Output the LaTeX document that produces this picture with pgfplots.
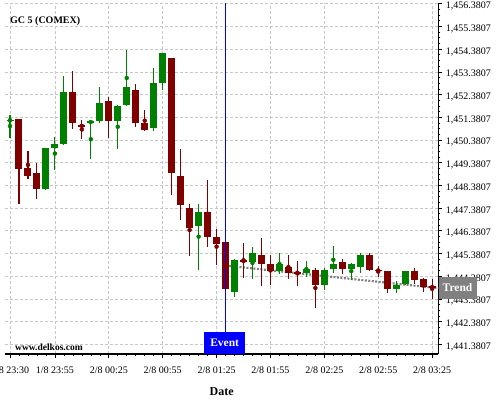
\documentclass[border=0pt]{standalone}
\usepackage{fontspec}
\setmainfont{Liberation Serif}
\usepackage{pgfplots}
\usepackage{pgfplotstable}
\pgfplotsset{compat=1.18}
\definecolor{cgreen}{RGB}{0,128,0}
\definecolor{cred}{RGB}{128,0,0}
\definecolor{evblue}{RGB}{0,0,255}
\definecolor{trgray}{RGB}{128,128,128}

\pgfplotstableread{
i o h l c
0 1451.23 1451.51 1450.49 1451.29
4 1448.22 1450.02 1448.18 1450.01
5 1450.03 1450.50 1449.08 1450.19
6 1450.20 1453.19 1450.15 1452.48
9 1451.13 1451.28 1449.56 1451.22
10 1451.22 1452.70 1451.12 1452.00
12 1451.22 1451.92 1450.00 1451.91
13 1451.92 1454.36 1451.88 1452.70
16 1450.91 1453.57 1450.78 1452.88
17 1452.89 1454.21 1452.60 1454.20
21 1446.59 1447.58 1444.67 1447.20
25 1443.68 1445.14 1443.48 1445.08
27 1445.01 1445.68 1444.27 1445.39
30 1444.61 1445.39 1444.46 1444.90
33 1444.52 1445.05 1444.35 1444.68
35 1443.99 1444.76 1443.76 1444.68
36 1444.70 1445.70 1444.51 1444.90
38 1444.70 1444.99 1444.23 1444.90
39 1444.79 1445.40 1444.50 1445.30
43 1443.82 1444.19 1443.66 1443.98
44 1444.07 1444.60 1443.98 1444.60
}\greentab

\pgfplotstableread{
i o h l c
1 1451.29 1451.30 1447.59 1449.10
2 1449.18 1449.88 1448.68 1448.79
3 1448.91 1449.38 1447.78 1448.22
7 1452.48 1453.41 1450.88 1451.13
8 1451.04 1451.28 1450.40 1450.98
11 1452.09 1452.27 1450.50 1451.22
14 1452.61 1452.88 1450.95 1451.13
15 1451.12 1451.69 1450.78 1450.82
18 1453.98 1453.99 1447.98 1448.93
19 1448.78 1450.00 1446.87 1447.52
20 1447.37 1447.58 1445.27 1446.50
22 1447.20 1448.61 1445.67 1446.11
23 1446.09 1446.48 1444.89 1445.80
24 1445.87 1445.88 1443.81 1443.82
26 1445.08 1445.86 1444.32 1445.01
28 1445.30 1446.08 1443.97 1444.92
29 1444.90 1445.29 1443.97 1444.61
31 1444.77 1445.30 1444.27 1444.52
32 1444.57 1445.05 1443.97 1444.51
34 1444.68 1444.74 1443.00 1443.99
37 1444.99 1445.16 1444.50 1444.70
40 1445.30 1445.40 1444.64 1444.68
41 1444.68 1444.82 1444.35 1444.60
42 1444.60 1444.61 1443.66 1443.82
45 1444.60 1444.76 1444.05 1444.21
46 1444.27 1444.28 1443.66 1443.90
47 1443.93 1444.27 1443.39 1443.88
}\redtab

\begin{document}
\begin{tikzpicture}
\useasboundingbox (-5bp,-46bp) rectangle (495bp,354bp);
\begin{axis}[
  at={(0,0)}, anchor=south west,
  scale only axis, width=433.3bp, height=350.5bp,
  xmin=-0.557, xmax=47.69,
  ymin=1440.95, ymax=1456.39,
  axis x line*=bottom, axis y line*=right,
  axis line style={line width=1.1bp, black},
  tick align=outside,
  major tick length=3.5bp, minor tick length=2bp,
  every tick/.style={black, line width=0.6bp},
  xtick={0,5,11,17,23,29,35,41,47},
  xticklabels={1/8 23:30, 1/8 23:55, 2/8 00:25, 2/8 00:55, 2/8 01:25, 2/8 01:55, 2/8 02:25, 2/8 02:55, 2/8 03:25},
  minor xtick={0,...,47},
  ytick={1441.3807,1442.3807,1443.3807,1444.3807,1445.3807,1446.3807,1447.3807,1448.3807,1449.3807,1450.3807,1451.3807,1452.3807,1453.3807,1454.3807,1455.3807,1456.3807},
  yticklabels={{1,441.3807},{1,442.3807},{1,443.3807},{1,444.3807},{1,445.3807},{1,446.3807},{1,447.3807},{1,448.3807},{1,449.3807},{1,450.3807},{1,451.3807},{1,452.3807},{1,453.3807},{1,454.3807},{1,455.3807},{1,456.3807}},
  minor y tick num=3,
  ticklabel style={font=\fontsize{10bp}{12bp}\selectfont, black},
  xticklabel style={yshift=-6bp},
  yticklabel style={yshift=-2.5bp, xshift=0.5bp},
  grid=major,
  major grid style={dash pattern=on 3bp off 2bp, black!22, line width=0.6bp},
  xlabel={\textbf{Date}},
  xlabel style={font=\fontsize{12bp}{14bp}\selectfont, yshift=-7bp},
]
% trend line
\addplot[dash pattern=on 2bp off 1.5bp, line width=2.2bp, color=black!50] coordinates {(24.39,1444.83) (47.69,1443.85)};
% green wicks and bodies
\addplot[only marks, mark=none, color=cgreen, forget plot,
  error bars/.cd, y dir=both, y explicit, error mark=none,
  error bar style={line width=1.1bp, color=cgreen}]
  table[x=i, y expr={(\thisrow{h}+\thisrow{l})/2}, y error expr={(\thisrow{h}-\thisrow{l})/2}] {\greentab};
\addplot[only marks, mark=none, color=cgreen, forget plot,
  error bars/.cd, y dir=both, y explicit, error mark=none,
  error bar style={line width=7bp, color=cgreen}]
  table[x=i, y expr={(\thisrow{o}+\thisrow{c})/2}, y error expr={abs(\thisrow{c}-\thisrow{o})/2}] {\greentab};
% red wicks and bodies
\addplot[only marks, mark=none, color=cred, forget plot,
  error bars/.cd, y dir=both, y explicit, error mark=none,
  error bar style={line width=1.1bp, color=cred}]
  table[x=i, y expr={(\thisrow{h}+\thisrow{l})/2}, y error expr={(\thisrow{h}-\thisrow{l})/2}] {\redtab};
\addplot[only marks, mark=none, color=cred, forget plot,
  error bars/.cd, y dir=both, y explicit, error mark=none,
  error bar style={line width=7bp, color=cred}]
  table[x=i, y expr={(\thisrow{o}+\thisrow{c})/2}, y error expr={abs(\thisrow{c}-\thisrow{o})/2}] {\redtab};
% event line
\addplot[evblue, line width=1.1bp] coordinates {(24,1440.95) (24,1456.39)};
\coordinate (trendend) at (axis cs:47.69,1443.85);
\coordinate (eventpos) at (axis cs:23.9,1440.95);
\coordinate (titlepos) at (rel axis cs:0.0115,0.944);
\coordinate (sitepos) at (rel axis cs:0.023,0.0114);
\end{axis}
\node[anchor=west, fill=trgray, text=white, font=\fontsize{11.5bp}{13bp}\selectfont\bfseries, minimum width=38bp, minimum height=22bp, inner sep=0pt] at ([yshift=0.5bp]trendend) {Trend};
\node[anchor=south, fill=evblue, text=white, font=\fontsize{11.5bp}{13bp}\selectfont\bfseries, minimum width=41bp, minimum height=22bp, inner sep=0pt] at (eventpos) {Event};
\node[anchor=base west, inner sep=0pt, font=\fontsize{10bp}{12bp}\selectfont\bfseries] at (titlepos) {GC 5 (COMEX)};
\node[anchor=base west, inner sep=0pt, font=\fontsize{9.5bp}{12bp}\selectfont\bfseries] at (sitepos) {www.delkos.com};
\end{tikzpicture}
\end{document}
